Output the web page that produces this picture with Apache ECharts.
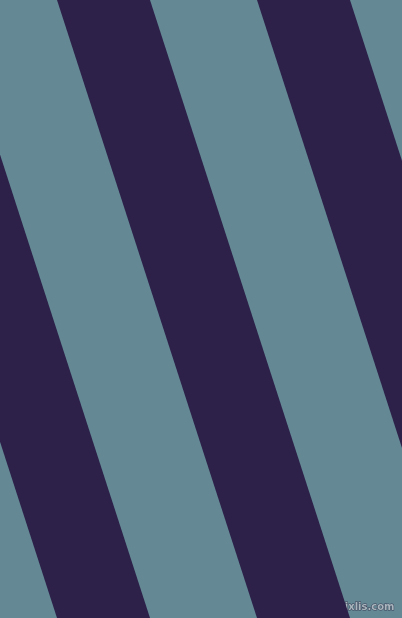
<!DOCTYPE html>
<html>
<head>
<meta charset="utf-8">
<script src="https://cdn.jsdelivr.net/npm/echarts@6/dist/echarts.min.js"></script>
<style>
html,body{margin:0;padding:0;background:#648995;}
#main{width:402px;height:618px;}
</style>
</head>
<body>
<div id="main"></div>
<script>
// stripe edges, x at the top (y=0) and at the bottom (y=618)
var topLeft=[-143,57,257];
var topRight=[-50,150,350];
var bottomLeft=[57,257,457];
var bottomRight=[150,350,550];

var dataset=[];
for(var i=0;i<topLeft.length;i++){
	dataset.push([topLeft[i],topRight[i],bottomLeft[i],bottomRight[i]]);
}

var myChart=echarts.init(document.getElementById('main'));
option={
	backgroundColor:'#648995',
	animation:false,
	grid:{left:0,right:0,top:0,bottom:0},
	xAxis:{type:'value',min:0,max:402,show:false},
	yAxis:{type:'value',min:0,max:618,inverse:true,show:false},
	series:[{
		type:'custom',
		clip:true,
		data:dataset,
		renderItem:function(params,api){
			var a=api.coord([api.value(0),0]);
			var b=api.coord([api.value(1),0]);
			var c=api.coord([api.value(3),618]);
			var d=api.coord([api.value(2),618]);
			return {
				type:'polygon',
				shape:{points:[a,b,c,d]},
				style:{fill:'#2d2149'}
			};
		}
	}],
	graphic:[{
		type:'text',
		right:7,
		bottom:5,
		style:{
			text:'pixlis.com',
			font:'bold 10px "DejaVu Sans"',
			fill:'#a9b6bd',
			stroke:'#3b3f57',
			lineWidth:1
		}
	}]
};
myChart.setOption(option);
</script>
</body>
</html>
